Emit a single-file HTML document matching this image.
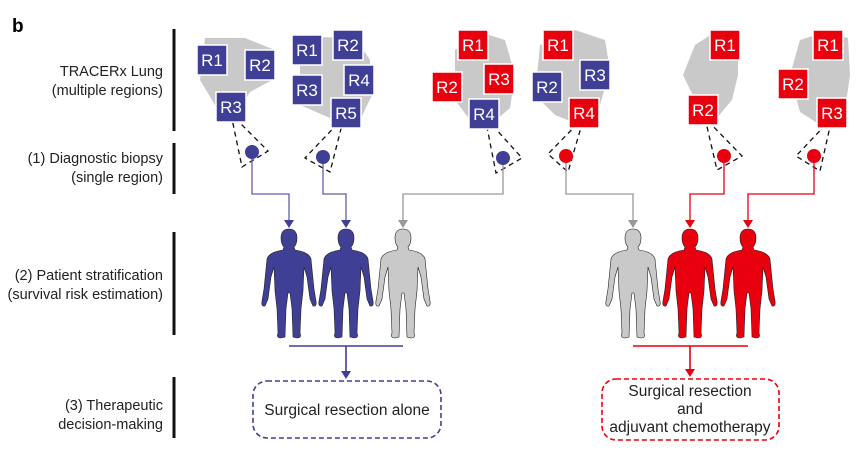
<!DOCTYPE html>
<html><head><meta charset="utf-8"><style>
html,body{margin:0;padding:0;background:#fff;}
svg{display:block;font-family:"Liberation Sans",sans-serif;}
</style></head><body>
<svg width="863" height="463" viewBox="0 0 863 463" xmlns="http://www.w3.org/2000/svg">
<defs>
<path id="man" d="M0,0 C6,0 8,4 8,9 C8,14 6,17 5,18 L6,21 Q20,23 22,30 L25,60 L27,72 Q28,78 24,77 L21,70 L18,48 L15,38 L14,62 L12,80 L11,104 Q13,109 8,109 L4,108 L3,80 L1,64 L-1,64 L-3,80 L-4,108 L-8,109 Q-13,109 -11,104 L-12,80 L-14,62 L-15,38 L-18,48 L-21,70 L-24,77 Q-28,78 -27,72 L-25,60 L-22,30 Q-20,23 -6,21 L-5,18 C-6,17 -8,14 -8,9 C-8,4 -6,0 0,0 Z"/>
</defs>
<text x="12" y="32" font-size="19" font-weight="bold">b</text>
<g font-size="14.5" text-anchor="end" fill="#222">
<text x="163" y="76">TRACERx Lung</text>
<text x="163" y="95">(multiple regions)</text>
<text x="163" y="163">(1) Diagnostic biopsy</text>
<text x="163" y="182">(single region)</text>
<text x="163" y="280">(2) Patient stratification</text>
<text x="163" y="299">(survival risk estimation)</text>
<text x="163" y="410">(3) Therapeutic</text>
<text x="163" y="429">decision-making</text>
</g>
<g stroke="#111" stroke-width="3">
<line x1="174" y1="29" x2="174" y2="131"/>
<line x1="174" y1="143" x2="174" y2="194"/>
<line x1="174" y1="232" x2="174" y2="335"/>
<line x1="174" y1="377" x2="174" y2="438"/>
</g>
<g fill="#c9c9c9">
<path d="M205,38 L245,38 L275,50 L272,80 L250,92 L240,108 L215,105 L200,80 Z"/>
<path d="M300,45 L320,37 L355,38 L370,60 L372,95 L360,120 L330,118 L300,105 Z"/>
<path d="M455,50 L480,32 L505,40 L515,75 L510,108 L490,125 L470,120 L455,100 Z"/>
<path d="M540,45 L575,30 L605,40 L610,70 L600,105 L580,125 L555,115 L535,95 Z"/>
<path d="M695,45 L715,32 L738,35 L738,75 L732,100 L715,120 L700,110 L683,75 Z"/>
<path d="M800,40 L825,32 L848,38 L850,75 L845,110 L825,128 L800,112 L790,75 Z"/>
</g>
<g fill="none" stroke="#111" stroke-width="1.3" stroke-dasharray="5,4">
<path d="M231,114 L242,167 L268,151 Z"/>
<path d="M344,117 L305,158 L330,172 Z"/>
<path d="M485,117 L496,173 L522,158 Z"/>
<path d="M584,117 L548,154 L568,172 Z"/>
<path d="M705,118 L717,170 L742,156 Z"/>
<path d="M832,118 L796,156 L820,171 Z"/>
</g>
<g stroke="#fff" stroke-width="1.5">
<g fill="#3f3f96">
<rect x="197" y="45" width="30" height="30"/><rect x="245" y="50" width="30" height="30"/><rect x="216" y="92" width="30" height="30"/>
<rect x="292" y="35" width="30" height="30"/><rect x="333" y="30" width="30" height="30"/><rect x="292" y="75" width="30" height="30"/><rect x="344" y="65" width="30" height="30"/><rect x="331" y="98" width="30" height="30"/>
<rect x="469" y="99" width="30" height="30"/>
<rect x="532" y="72" width="30" height="30"/><rect x="580" y="60" width="30" height="30"/>
</g>
<g fill="#e8000f">
<rect x="458" y="30" width="30" height="30"/><rect x="432" y="72" width="30" height="30"/><rect x="484" y="64" width="30" height="30"/>
<rect x="543" y="30" width="30" height="30"/><rect x="569" y="98" width="30" height="30"/>
<rect x="710" y="30" width="30" height="30"/><rect x="688" y="95" width="30" height="30"/>
<rect x="813" y="30" width="30" height="30"/><rect x="778" y="69" width="30" height="30"/><rect x="817" y="98" width="30" height="30"/>
</g>
</g>
<g fill="#fff" font-size="17" text-anchor="middle">
<text x="212" y="66">R1</text><text x="260" y="71">R2</text><text x="231" y="113">R3</text>
<text x="307" y="56">R1</text><text x="348" y="51">R2</text><text x="307" y="96">R3</text><text x="359" y="86">R4</text><text x="346" y="119">R5</text>
<text x="473" y="51">R1</text><text x="447" y="93">R2</text><text x="499" y="85">R3</text><text x="484" y="120">R4</text>
<text x="558" y="51">R1</text><text x="547" y="93">R2</text><text x="595" y="81">R3</text><text x="584" y="119">R4</text>
<text x="725" y="51">R1</text><text x="703" y="116">R2</text>
<text x="828" y="51">R1</text><text x="793" y="90">R2</text><text x="832" y="119">R3</text>
</g>
<g fill="#3f3f96"><circle cx="252" cy="152" r="7"/><circle cx="323" cy="157" r="7"/><circle cx="503" cy="158" r="7"/></g>
<g fill="#e8000f"><circle cx="566" cy="156" r="7"/><circle cx="724" cy="156" r="7"/><circle cx="814" cy="156" r="7"/></g>
<g fill="none" stroke-width="1.3">
<path d="M252,159 V194 H289 V222" stroke="#6060aa"/>
<path d="M323,164 V194 H346 V222" stroke="#6060aa"/>
<path d="M503,165 V194 H403 V222" stroke="#999"/>
<path d="M566,163 V194 H633 V222" stroke="#999"/>
<path d="M724,163 V194 H690 V222" stroke="#e8000f"/>
<path d="M814,163 V194 H748 V222" stroke="#e8000f"/>
<path d="M289,346 H403 M346,346 V372" stroke="#3f3f96" stroke-width="1.6"/>
<path d="M633,346 H748 M690,346 V370" stroke="#e8000f" stroke-width="1.6"/>
</g>
<g>
<path d="M284,220 L294,220 L289,228 Z" fill="#3f3f96"/>
<path d="M341,220 L351,220 L346,228 Z" fill="#3f3f96"/>
<path d="M398,220 L408,220 L403,228 Z" fill="#999"/>
<path d="M628,220 L638,220 L633,228 Z" fill="#999"/>
<path d="M685,220 L695,220 L690,228 Z" fill="#e8000f"/>
<path d="M743,220 L753,220 L748,228 Z" fill="#e8000f"/>
<path d="M341,371 L351,371 L346,379 Z" fill="#3f3f96"/>
<path d="M685,369 L695,369 L690,377 Z" fill="#e8000f"/>
</g>
<g stroke="#222" stroke-width="0.6">
<use href="#man" transform="translate(289,229)" fill="#3f3f96"/>
<use href="#man" transform="translate(346,229)" fill="#3f3f96"/>
<use href="#man" transform="translate(403,229)" fill="#c9c9c9"/>
<use href="#man" transform="translate(633,229)" fill="#c9c9c9"/>
<use href="#man" transform="translate(690,229)" fill="#e8000f"/>
<use href="#man" transform="translate(748,229)" fill="#e8000f"/>
</g>
<rect x="253" y="381" width="188" height="57" rx="14" fill="none" stroke="#3f3f96" stroke-width="1.6" stroke-dasharray="5,3"/>
<rect x="602" y="379" width="177" height="61" rx="14" fill="none" stroke="#e8000f" stroke-width="1.6" stroke-dasharray="5,3"/>
<g font-size="15.5" text-anchor="middle" fill="#222">
<text x="347" y="415">Surgical resection alone</text>
<text x="690" y="396">Surgical resection</text>
<text x="690" y="414">and</text>
<text x="690" y="432">adjuvant chemotherapy</text>
</g>
</svg>
</body></html>
